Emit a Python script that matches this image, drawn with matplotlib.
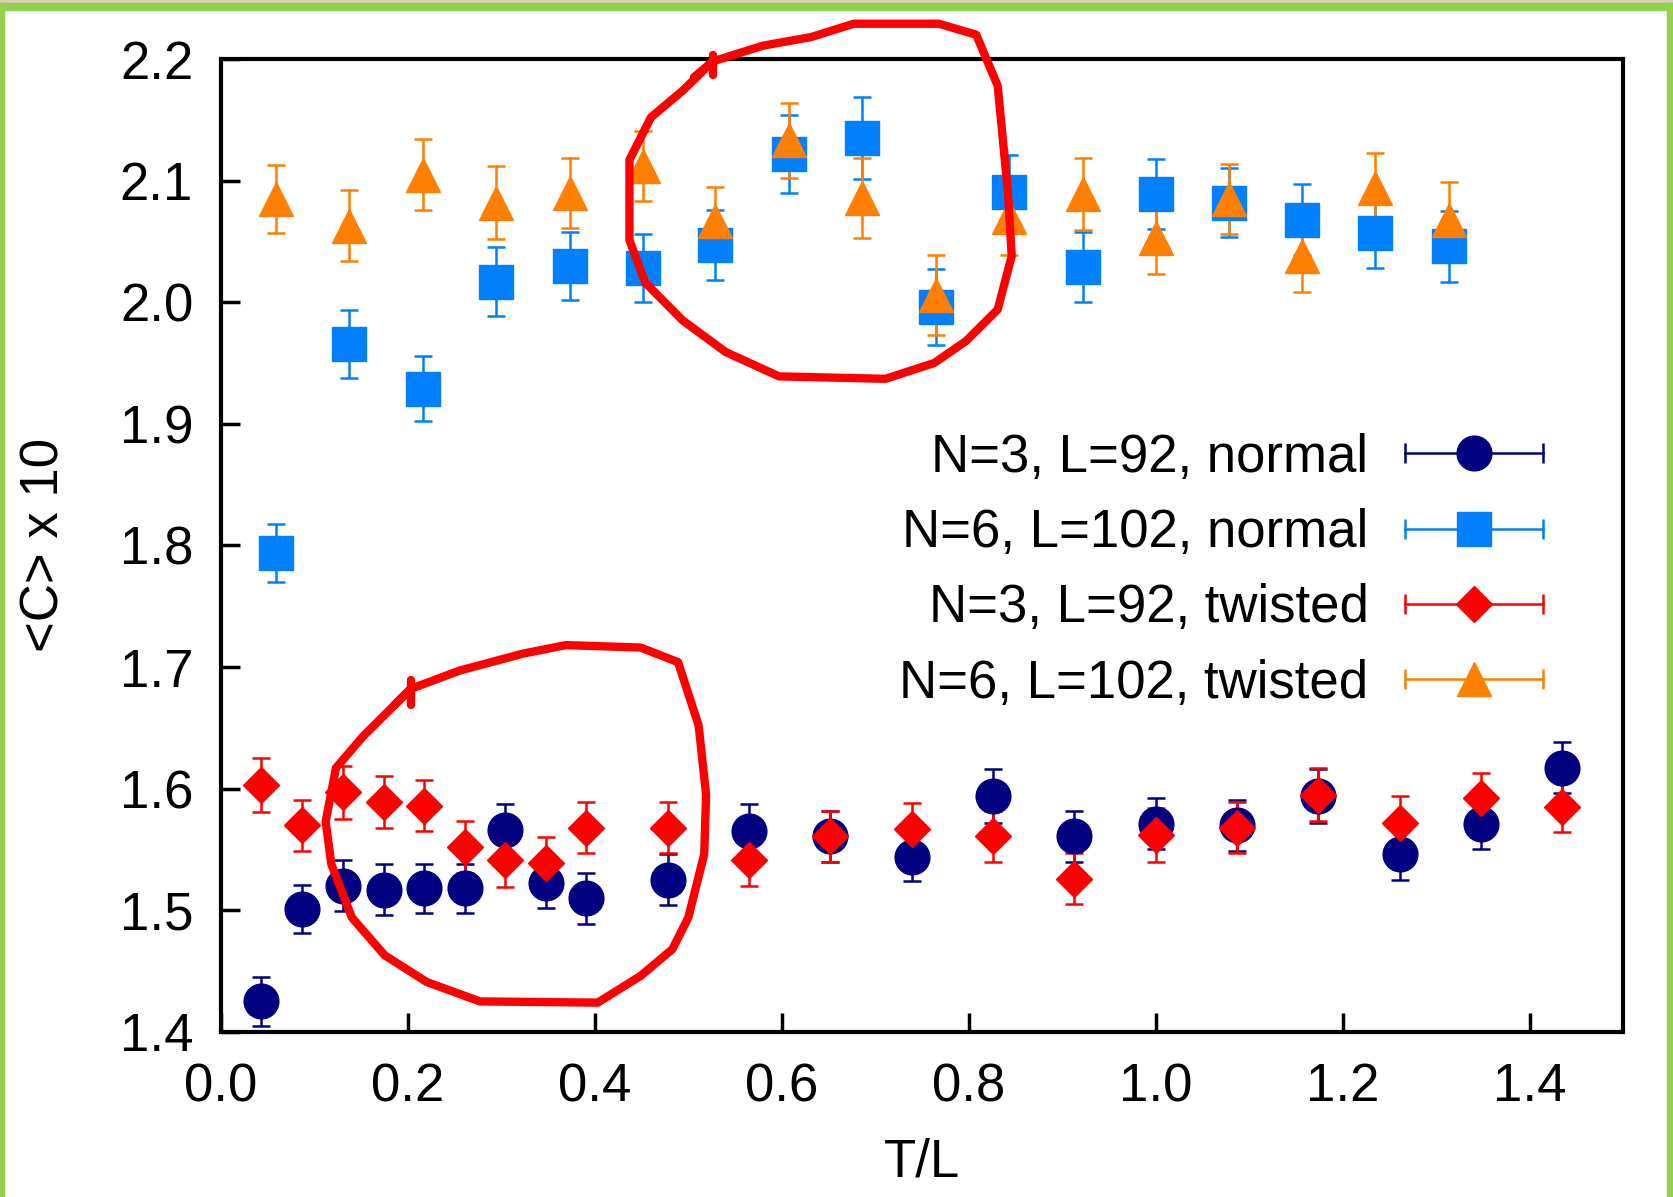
import matplotlib
matplotlib.use('Agg')
import matplotlib.pyplot as plt
from matplotlib.lines import Line2D
from matplotlib.patches import Rectangle
from matplotlib.legend_handler import HandlerLine2D

plt.rcParams['font.family'] = ['Liberation Sans', 'DejaVu Sans']

# N=3, L=92 (T/L values)
x3 = [0.043, 0.087, 0.130, 0.174, 0.217, 0.261, 0.304, 0.348, 0.391, 0.478, 0.565,
      0.652, 0.739, 0.826, 0.913, 1.000, 1.087, 1.174, 1.261, 1.348, 1.435]
c3_normal = [1.425, 1.501, 1.520, 1.517, 1.518, 1.518, 1.566, 1.522, 1.510, 1.525, 1.565,
             1.561, 1.544, 1.594, 1.561, 1.571, 1.570, 1.594, 1.546, 1.571, 1.617]
e3_normal = [0.020, 0.020, 0.021, 0.021, 0.020, 0.020, 0.021, 0.020, 0.021, 0.021, 0.022,
             0.021, 0.020, 0.022, 0.021, 0.021, 0.021, 0.022, 0.021, 0.021, 0.021]
c3_twisted = [1.603, 1.570, 1.597, 1.589, 1.586, 1.552, 1.541, 1.539, 1.568, 1.568, 1.541,
              1.561, 1.567, 1.561, 1.526, 1.562, 1.568, 1.595, 1.572, 1.592, 1.585]
e3_twisted = [0.022, 0.021, 0.022, 0.021, 0.021, 0.021, 0.022, 0.021, 0.021, 0.021, 0.021,
              0.021, 0.021, 0.021, 0.021, 0.022, 0.021, 0.022, 0.022, 0.021, 0.021]

# N=6, L=102
x6 = [0.059, 0.137, 0.216, 0.294, 0.373, 0.451, 0.529, 0.608, 0.686, 0.765, 0.843,
      0.922, 1.000, 1.078, 1.157, 1.235, 1.314]
c6_normal = [1.794, 1.966, 1.929, 2.017, 2.030, 2.028, 2.047, 2.122, 2.135, 1.996, 2.091,
             2.029, 2.089, 2.082, 2.068, 2.057, 2.046]
e6_normal = [0.024, 0.028, 0.027, 0.028, 0.028, 0.028, 0.029, 0.032, 0.034, 0.031, 0.030,
             0.029, 0.029, 0.028, 0.029, 0.029, 0.029]
c6_twisted = [2.085, 2.063, 2.105, 2.082, 2.090, 2.112, 2.067, 2.133, 2.086, 2.006, 2.070,
              2.089, 2.053, 2.085, 2.038, 2.094, 2.068]
e6_twisted = [0.028, 0.029, 0.029, 0.030, 0.029, 0.029, 0.028, 0.031, 0.033, 0.033, 0.031,
              0.030, 0.030, 0.029, 0.030, 0.029, 0.031]

labels = ['N=3, L=92, normal', 'N=6, L=102, normal', 'N=3, L=92, twisted', 'N=6, L=102, twisted']
colors = ['#000080', '#0080ff', '#ff0000', '#ff8000']

# hand-drawn red annotation loops (data coords)
loop1_x = [0.506, 0.526, 0.580, 0.631, 0.677, 0.768, 0.808, 0.831, 0.842, 0.846, 0.831, 0.797,
           0.763, 0.711, 0.597, 0.540, 0.494, 0.454, 0.437, 0.437, 0.460, 0.494, 0.526]
loop1_y = [2.185, 2.198, 2.211, 2.218, 2.229, 2.229, 2.220, 2.178, 2.090, 2.038, 1.994, 1.968,
           1.950, 1.937, 1.939, 1.959, 1.985, 2.016, 2.051, 2.117, 2.152, 2.174, 2.198]
loop2_x = [0.186, 0.203, 0.255, 0.323, 0.369, 0.449, 0.489, 0.511, 0.519, 0.517, 0.500, 0.483,
           0.449, 0.403, 0.277, 0.220, 0.175, 0.140, 0.118, 0.112, 0.123, 0.152, 0.203]
loop2_y = [1.669, 1.682, 1.697, 1.711, 1.718, 1.716, 1.704, 1.652, 1.595, 1.546, 1.494, 1.468,
           1.446, 1.424, 1.425, 1.441, 1.463, 1.494, 1.538, 1.573, 1.617, 1.643, 1.682]

fig = plt.figure(figsize=(16.73, 11.97), dpi=100)
ax = fig.add_axes([0.1321, 0.138, 0.838, 0.8127])

kw = dict(linestyle='none', elinewidth=1.8, capsize=6.5, capthick=1.8)
ax.errorbar(x3, c3_normal, yerr=e3_normal, fmt='o', color=colors[0], ms=25, **kw)
ax.errorbar(x6, c6_normal, yerr=e6_normal, fmt='s', color=colors[1], ms=25, **kw)
ax.errorbar(x3, c3_twisted, yerr=e3_twisted, fmt='D', color=colors[2], ms=18, **kw)
ax.errorbar(x6, c6_twisted, yerr=e6_twisted, fmt='^', color=colors[3], ms=25, **kw)

red = dict(color='#ff0000', lw=6, clip_on=False, zorder=10, solid_joinstyle='round', solid_capstyle='round')
ax.plot(loop1_x, loop1_y, **red)
ax.plot(loop2_x, loop2_y, **red)
ax.plot([0.526, 0.526], [2.203, 2.187], **red)
ax.plot([0.203, 0.203], [1.689, 1.669], **red)

ax.set_xlim(0, 1.5)
ax.set_ylim(1.4, 2.2)
ax.set_xticks([0.0, 0.2, 0.4, 0.6, 0.8, 1.0, 1.2, 1.4])
ax.set_yticks([1.4, 1.5, 1.6, 1.7, 1.8, 1.9, 2.0, 2.1, 2.2])
ax.set_xticklabels(['0.0', '0.2', '0.4', '0.6', '0.8', '1.0', '1.2', '1.4'])
ax.set_yticklabels(['1.4', '1.5', '1.6', '1.7', '1.8', '1.9', '2.0', '2.1', '2.2'])
ax.tick_params(direction='in', length=14, width=2.5, labelsize=38)
ax.tick_params(axis='y', pad=20)
ax.tick_params(axis='x', pad=22)
for s in ax.spines.values():
    s.set_linewidth(3)
ax.set_xlabel('T/L', fontsize=38, labelpad=18)
ax.set_ylabel('<C> x 10', fontsize=38, labelpad=36)

# legend: horizontal bar with end caps + marker
handles = []
hmap = {}
mk = ['o', 's', 'D', '^']
msz = [25, 25, 18, 25]
for c, m, s in zip(colors, mk, msz):
    bar = Line2D([], [], color=c, lw=1.8, marker='|', ms=14, mew=1.8)
    dot = Line2D([], [], color=c, linestyle='none', marker=m, ms=s)
    hmap[bar] = HandlerLine2D(numpoints=2)
    hmap[dot] = HandlerLine2D(numpoints=1)
    handles.append((bar, dot))
ax.legend(handles, labels, handler_map=hmap, loc='center right', bbox_to_anchor=(0.954, 0.474),
          frameon=False, markerfirst=False, fontsize=38, handlelength=3.2, handletextpad=0.4,
          labelspacing=0.48, borderpad=0, borderaxespad=0)

# green frame around the screenshot
fig.patches.append(Rectangle((0, 0.9975), 1, 0.0025, transform=fig.transFigure, color='#d8d0b8', zorder=0))
fig.patches.append(Rectangle((0, 0.9917), 1, 0.0058, transform=fig.transFigure, color='#92d050', zorder=0))
fig.patches.append(Rectangle((0, 0), 0.0024, 0.9975, transform=fig.transFigure, color='#92d050', zorder=0))
fig.patches.append(Rectangle((0.9964, 0), 0.0036, 0.9975, transform=fig.transFigure, color='#92d050', zorder=0))

fig.savefig('out.png', dpi=100)
